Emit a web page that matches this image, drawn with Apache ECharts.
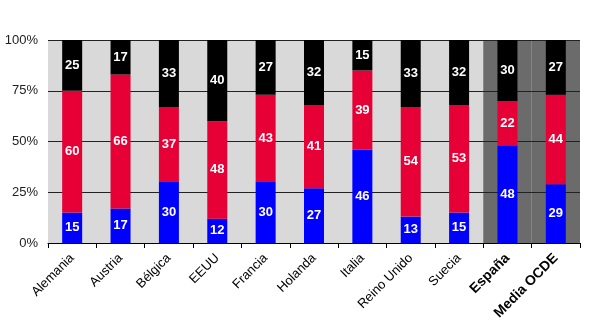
<!DOCTYPE html>
<html>
<head>
<meta charset="utf-8">
<style>
  html, body { margin: 0; padding: 0; background: #fff; }
  #chart { width: 600px; height: 330px; }
</style>
<script src="https://cdn.jsdelivr.net/npm/echarts@6/dist/echarts.min.js"></script>
</head>
<body>
<div id="chart"></div>
<script>
// Countries and shares (%) of the three groups, bottom to top
const categories = ['Alemania', 'Austria', 'Bélgica', 'EEUU', 'Francia', 'Holanda', 'Italia', 'Reino Unido', 'Suecia', 'España', 'Media OCDE'];
const blueValues  = [15, 17, 30, 12, 30, 27, 46, 13, 15, 48, 29];
const redValues   = [60, 66, 37, 48, 43, 41, 39, 54, 53, 22, 44];
const blackValues = [25, 17, 33, 40, 27, 32, 15, 33, 32, 30, 27];
const highlighted = ['España', 'Media OCDE'];
const yTicks = [0, 25, 50, 75, 100];

const FONT = '"Liberation Sans", Arial, sans-serif';

// Dark full-height bands behind the highlighted columns only
const bandData = categories.map(c => highlighted.includes(c) ? yTicks[yTicks.length - 1] : null);

const segLabel = {
  show: true,
  position: 'inside',
  color: '#fff',
  fontFamily: FONT,
  fontWeight: 'bold',
  fontSize: 13
};

function stackSeries(name, data, color) {
  return {
    name, type: 'bar', stack: 'total', data,
    xAxisIndex: 0, yAxisIndex: 0,
    barWidth: 20, z: 3,
    itemStyle: { color },
    label: segLabel
  };
}

const chart = echarts.init(document.getElementById('chart'), null, { renderer: 'canvas' });
chart.setOption({
  animation: false,
  grid: {
    left: 48, right: 20, top: 40, bottom: 87,
    show: true, backgroundColor: '#d9d9d9', borderWidth: 0
  },
  xAxis: [
    {
      type: 'category',
      data: categories,
      z: 4,
      axisLine: { lineStyle: { color: '#000', width: 1 } },
      axisTick: { show: true, length: 5, lineStyle: { color: '#000' } },
      axisLabel: {
        rotate: 45,
        interval: 0,
        margin: 13,
        fontFamily: FONT,
        fontSize: 13,
        color: '#000',
        formatter: v => highlighted.includes(v) ? '{b|' + v + '}' : v,
        rich: { b: { fontWeight: 'bold', fontFamily: FONT, fontSize: 14, color: '#000' } }
      }
    },
    {
      type: 'category',
      data: categories,
      show: false
    }
  ],
  yAxis: {
    type: 'value',
    min: 0, max: 100, interval: 25,
    z: 2,
    axisLine: { show: false },
    axisTick: { show: false },
    axisLabel: {
      formatter: '{value}%',
      fontFamily: FONT,
      fontSize: 13,
      color: '#222',
      margin: 10
    },
    splitLine: { show: true, lineStyle: { color: '#222', width: 1 } }
  },
  series: [
    {
      name: 'fondo', type: 'bar', data: bandData,
      xAxisIndex: 1, yAxisIndex: 0,
      barWidth: '100%', barCategoryGap: '0%', barGap: '0%', z: 1,
      itemStyle: { color: '#6b6b6b' },
      silent: true
    },
    stackSeries('azul', blueValues, '#0000ff'),
    stackSeries('rojo', redValues, '#e60036'),
    stackSeries('negro', blackValues, '#000000')
  ]
});
</script>
</body>
</html>
